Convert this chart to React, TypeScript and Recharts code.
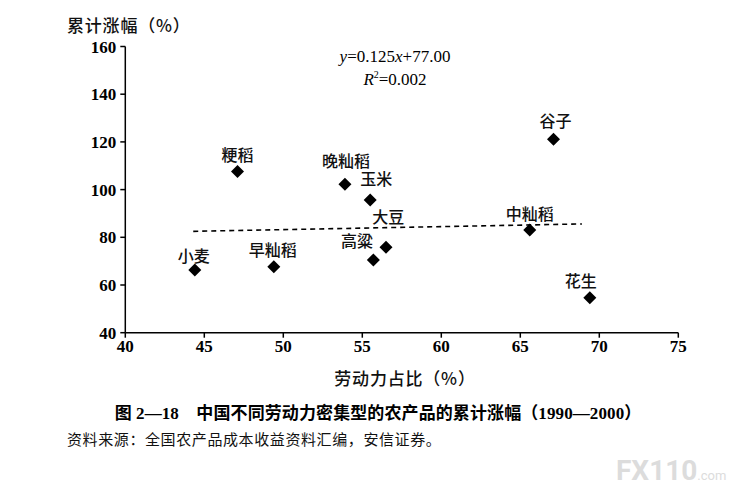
import React from 'react'
import { ScatterChart, Scatter, XAxis, YAxis } from 'recharts'

// 农产品：劳动力占比（%）与累计涨幅（%），1990—2000
const crops = ['小麦', '粳稻', '早籼稻', '晚籼稻', '玉米', '高粱', '大豆', '中籼稻', '谷子', '花生']
const laborShare = [44.4, 47.1, 49.4, 53.9, 55.5, 56.5, 55.7, 65.6, 67.1, 69.4]
const cumulativeRise = [66.3, 107.6, 67.7, 102.2, 95.6, 75.8, 70.5, 83.1, 121.1, 54.7]

// 趋势线两端
const trendX = [44.3, 68.9]
const trendY = [82.5, 85.6]

const xTicks = [40, 45, 50, 55, 60, 65, 70, 75]
const yTicks = [40, 60, 80, 100, 120, 140, 160]

// label placement relative to the marker centre
const labelOffsets: Record<string, [number, number]> = {
  小麦: [-1, -15],
  粳稻: [0, -17],
  早籼稻: [-1, -18],
  晚籼稻: [1, -24],
  玉米: [6, -22],
  高粱: [-29, -7],
  大豆: [15, -44],
  中籼稻: [0, -17],
  谷子: [2, -19],
  花生: [-9, -18],
}

const points = crops.map((name, i) => ({ name, x: laborShare[i], y: cumulativeRise[i] }))
const trend = trendX.map((x, i) => ({ x, y: trendY[i] }))

const serif = '"Liberation Serif", "Noto Sans CJK SC", serif'
const hei = '"Noto Sans CJK SC", sans-serif'

function DiamondMark(props: any) {
  const { cx, cy, payload } = props
  if (cx == null || cy == null) return <g />
  const r = 6.5
  const [dx, dy] = labelOffsets[payload.name] ?? [0, -17]
  return (
    <g>
      <path d={`M${cx},${cy - r}L${cx + r},${cy}L${cx},${cy + r}L${cx - r},${cy}Z`} fill="#000" />
      <text
        x={cx + dx}
        y={cy + dy}
        textAnchor="middle"
        dominantBaseline="central"
        fontFamily={hei}
        fontSize={16}
        fontWeight={500}
        fill="#111"
      >
        {payload.name}
      </text>
    </g>
  )
}

const tickStyle = { fontSize: 17, fontFamily: serif, fill: '#000', fontWeight: 600 }

export default function App() {
  return (
    <div style={{ position: 'absolute', left: 0, top: 0, width: 731, height: 493, background: '#fff', overflow: 'hidden' }}>
      <ScatterChart
        width={731}
        height={493}
        margin={{ top: 46.5, right: 52.7, left: 65.3, bottom: 130.3 }}
      >
        <XAxis
          dataKey="x"
          type="number"
          domain={[40, 75]}
          ticks={xTicks}
          height={30}
          tick={tickStyle}
          tickSize={5}
          stroke="#000"
          strokeWidth={1.5}
          allowDataOverflow
        />
        <YAxis
          dataKey="y"
          type="number"
          domain={[40, 160]}
          ticks={yTicks}
          width={60}
          tick={tickStyle}
          tickSize={5}
          tickMargin={4}
          stroke="#000"
          strokeWidth={1.5}
          allowDataOverflow
        />
        <Scatter
          data={trend}
          shape={() => <g />}
          line={{ stroke: '#000', strokeWidth: 1.6, strokeDasharray: '5 4' }}
          isAnimationActive={false}
        />
        <Scatter data={points} shape={<DiamondMark />} isAnimationActive={false} />
      </ScatterChart>

      <div style={{ position: 'absolute', left: 67, top: 12, fontFamily: hei, fontSize: 17, fontWeight: 500, letterSpacing: 0.8, color: '#111', whiteSpace: 'nowrap' }}>
        累计涨幅（%）
      </div>

      <div style={{ position: 'absolute', left: 395, top: 48, transform: 'translateX(-50%)', fontFamily: serif, fontSize: 17, color: '#000', whiteSpace: 'nowrap', textAlign: 'center', lineHeight: '18px' }}>
        <div>
          <i>y</i>=0.125<i>x</i>+77.00
        </div>
        <div>
          <i>R</i>
          <sup style={{ fontSize: 10 }}>2</sup>=0.002
        </div>
      </div>

      <div style={{ position: 'absolute', left: 405, top: 365, transform: 'translateX(-50%)', fontFamily: hei, fontSize: 17, fontWeight: 500, letterSpacing: 0.8, color: '#111', whiteSpace: 'nowrap' }}>
        劳动力占比（%）
      </div>

      <div style={{ position: 'absolute', left: 378, top: 399, transform: 'translateX(-50%)', fontFamily: serif, fontSize: 17, fontWeight: 700, letterSpacing: 0.1, color: '#000', whiteSpace: 'nowrap' }}>
        图 2—18&nbsp;&nbsp;&nbsp;&nbsp;中国不同劳动力密集型的农产品的累计涨幅（1990—2000）
      </div>

      <div style={{ position: 'absolute', left: 67, top: 428, fontFamily: hei, fontSize: 15, letterSpacing: 0.6, color: '#111', whiteSpace: 'nowrap' }}>
        资料来源：全国农产品成本收益资料汇编，安信证券。
      </div>

      <div style={{ position: 'absolute', left: 616, top: 454, fontFamily: '"Roboto", sans-serif', color: '#dcdcdc', whiteSpace: 'nowrap' }}>
        <span style={{ fontSize: 28, fontWeight: 700 }}>FX110</span>
        <span style={{ fontSize: 13 }}>.com</span>
      </div>
    </div>
  )
}
